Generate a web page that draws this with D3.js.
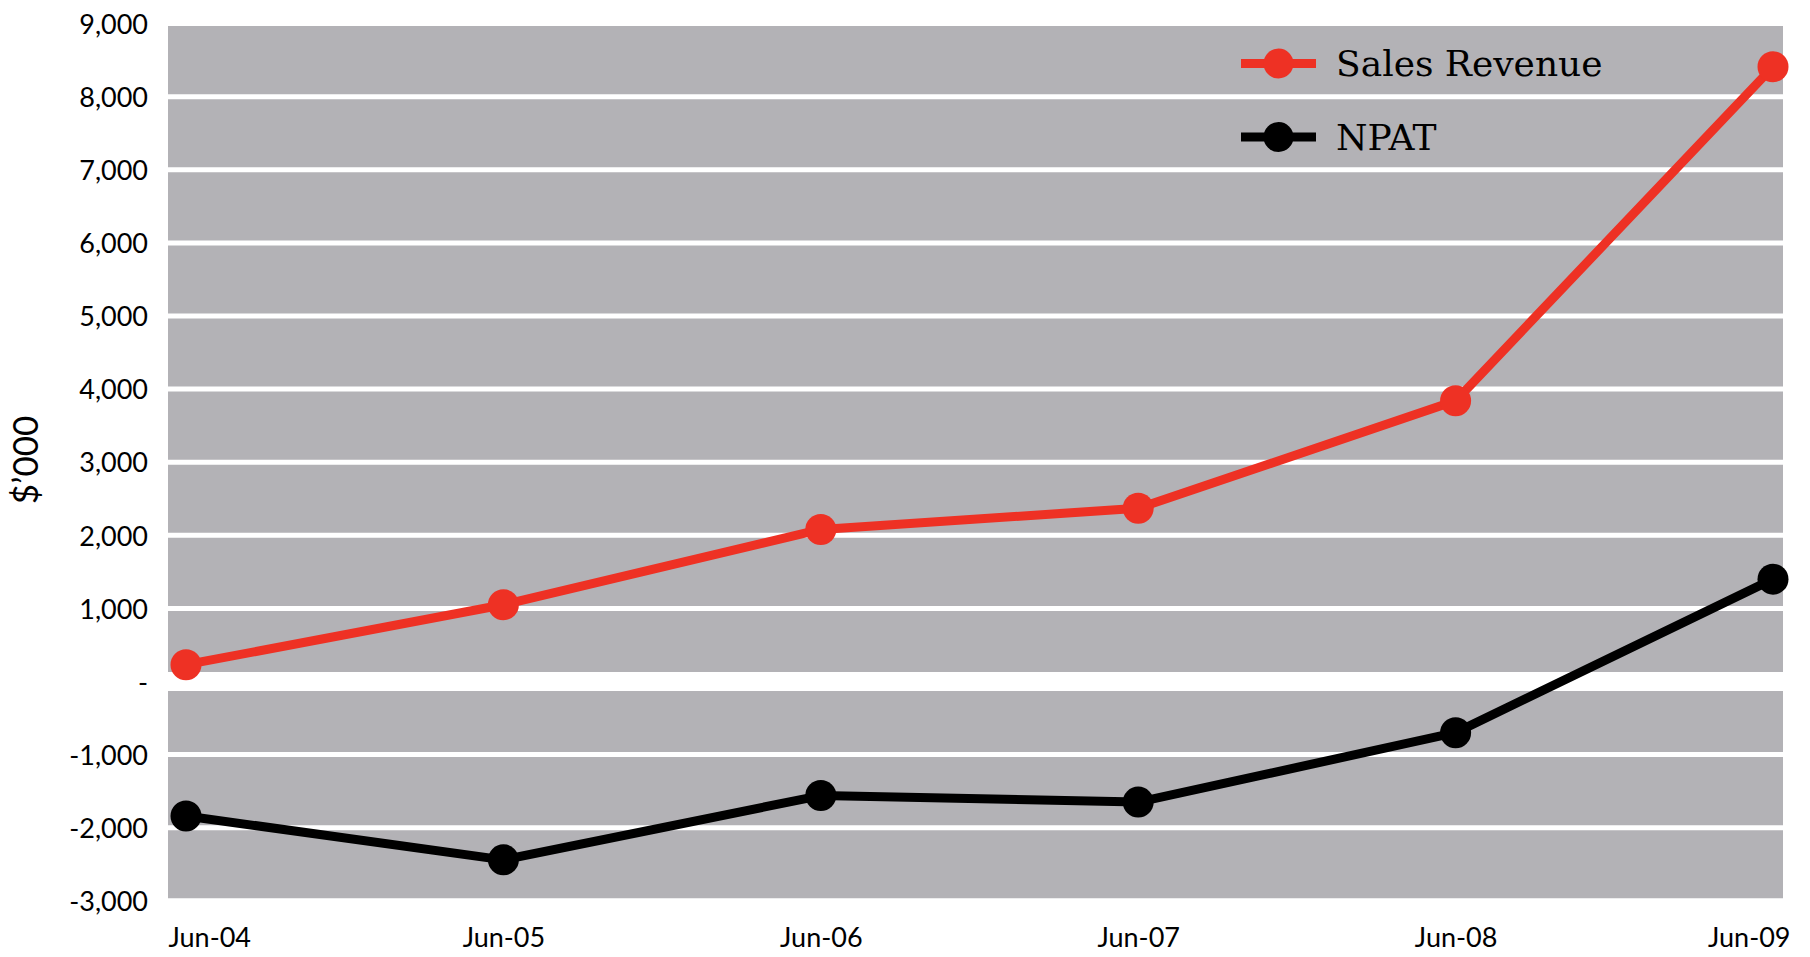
<!DOCTYPE html>
<html lang="en">

<head>
    <meta charset="UTF-8">
    <script src="https://d3js.org/d3.v7.min.js"></script>
    <style>
        html,
        body {
            margin: 0;
            padding: 0;
            overflow: hidden;
            background: #fff;
        }

        svg .tick text {
            font-family: Lato, "Open Sans", sans-serif;
            font-size: 27px;
            fill: #000;
        }

        svg .legend text {
            font-family: "DejaVu Serif", serif;
            font-size: 36px;
            fill: #000;
        }
    </style>
</head>

<body>
    <svg id="chart" width="1810" height="957"></svg>
    <script>
        // values in $'000
        const periods = ["Jun-04", "Jun-05", "Jun-06", "Jun-07", "Jun-08", "Jun-09"];
        const salesRevenue = [230, 1050, 2080, 2370, 3840, 8410];
        const npat = [-1840, -2440, -1560, -1650, -700, 1400];
        const yTicks = [-3000, -2000, -1000, 0, 1000, 2000, 3000, 4000, 5000, 6000, 7000, 8000, 9000];

        const series = [
            { name: "Sales Revenue", values: salesRevenue, color: "#ee3124" },
            { name: "NPAT", values: npat, color: "#000" }
        ];

        const W = 1810, H = 957;
        const margin = { top: 23.6, right: 27, bottom: 56.2, left: 168 };

        const svg = d3.select("#chart");

        const x = d3.scalePoint()
            .domain(periods)
            .range([margin.left + 18, W - margin.right - 10]);

        const y = d3.scaleLinear()
            .domain([-3000, 9000])
            .range([H - margin.bottom, margin.top]);

        // grey plot area
        svg.append("rect")
            .attr("x", margin.left)
            .attr("y", y(9000))
            .attr("width", W - margin.right - margin.left)
            .attr("height", y(-3000) - y(9000))
            .attr("fill", "#b3b2b6");

        // white grid bands, the zero one is wide
        svg.append("g")
            .selectAll("line")
            .data(yTicks)
            .join("line")
            .attr("x1", margin.left)
            .attr("x2", W - margin.right)
            .attr("y1", d => y(d))
            .attr("y2", d => y(d))
            .attr("stroke", "#fff")
            .attr("stroke-width", d => d === 0 ? 19 : 5);

        // y axis labels (plain hyphen for negatives, "-" for zero)
        const fmt = d3.formatLocale({ decimal: ".", thousands: ",", grouping: [3], currency: ["$", ""], minus: "-" }).format(",");
        svg.append("g")
            .attr("transform", `translate(${margin.left - 20},0)`)
            .call(d3.axisLeft(y).tickValues(yTicks).tickSize(0).tickPadding(0)
                .tickFormat(d => d === 0 ? "-" : fmt(d)))
            .call(g => g.select(".domain").remove())
            .call(g => g.selectAll(".tick text").attr("dy", "0.36em"));

        // x axis labels, end labels kept inside the plot edges
        const xAxis = svg.append("g")
            .attr("transform", `translate(0,${H - 10})`)
            .call(d3.axisBottom(x).tickSize(0).tickPadding(0))
            .call(g => g.select(".domain").remove());
        xAxis.selectAll(".tick text").attr("dy", 0);
        xAxis.selectAll(".tick").each(function (d, i) {
            const t = d3.select(this).select("text");
            if (i === 0) t.attr("text-anchor", "start").attr("x", margin.left - x(d));
            if (i === periods.length - 1) t.attr("text-anchor", "end").attr("x", W - margin.right + 7 - x(d));
        });

        // y axis title
        svg.append("text")
            .attr("transform", `translate(38,460) rotate(-90)`)
            .attr("text-anchor", "middle")
            .style("font-family", "Lato, sans-serif")
            .style("font-size", "35px")
            .text("$\u2019000");

        const line = d3.line()
            .x((d, i) => x(periods[i]))
            .y(d => y(d));

        const lines = svg.append("g");
        series.forEach(s => {
            lines.append("path")
                .datum(s.values)
                .attr("fill", "none")
                .attr("stroke", s.color)
                .attr("stroke-width", 9)
                .attr("stroke-linejoin", "round")
                .attr("d", line);
            lines.append("g")
                .selectAll("circle")
                .data(s.values)
                .join("circle")
                .attr("cx", (d, i) => x(periods[i]))
                .attr("cy", d => y(d))
                .attr("r", 15.5)
                .attr("fill", s.color);
        });

        // legend
        const legend = svg.append("g")
            .attr("class", "legend")
            .attr("transform", "translate(1241,63.5)");
        const item = legend.selectAll("g")
            .data(series)
            .join("g")
            .attr("transform", (d, i) => `translate(0,${i * 73.5})`);
        item.append("line")
            .attr("x1", 0).attr("x2", 75)
            .attr("stroke", d => d.color)
            .attr("stroke-width", 9);
        item.append("circle")
            .attr("cx", 37.5)
            .attr("r", 15)
            .attr("fill", d => d.color);
        item.append("text")
            .attr("x", 95)
            .attr("dy", "0.36em")
            .text(d => d.name);
    </script>
</body>

</html>
